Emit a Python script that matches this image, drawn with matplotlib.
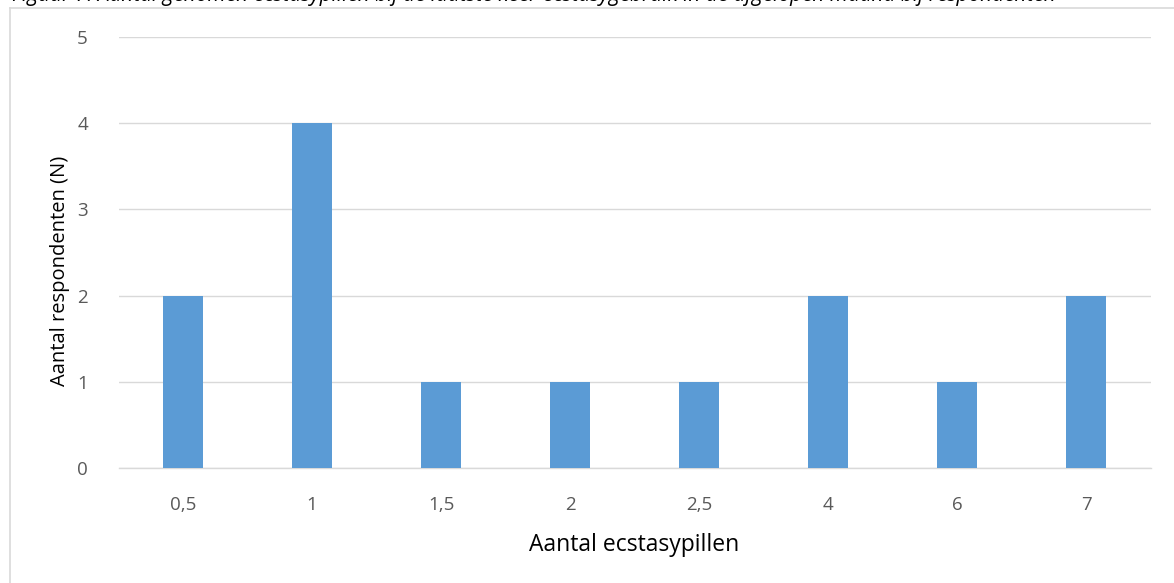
import matplotlib
matplotlib.use("Agg")
import matplotlib.pyplot as plt
from matplotlib.lines import Line2D

categories = ["0,5", "1", "1,5", "2", "2,5", "4", "6", "7"]
values = [2, 4, 1, 1, 1, 2, 1, 2]
yticks = [0, 1, 2, 3, 4, 5]
title = "Figuur 7: Aantal genomen ecstasypillen bij de laatste keer ecstasygebruik in de afgelopen maand bij respondenten"

plt.rcParams['font.family'] = ['Open Sans', 'DejaVu Sans']

fig = plt.figure(figsize=(11.74, 5.83), dpi=100)
W, H = 1174, 583
ax = fig.add_axes([118.5 / W, 1 - 468 / H, (1150.5 - 118.5) / W, (468 - 37) / H])

x = list(range(len(categories)))
ax.bar(x, values, width=0.31, color="#5B9BD5", zorder=3)
ax.set_xlim(-0.5, len(categories) - 0.5)
ax.set_ylim(0, 5)
ax.set_yticks(yticks)
ax.set_xticks(x)
ax.set_xticklabels(categories)
ax.grid(axis="y", color="#d9d9d9", linewidth=1, zorder=0)
for s in ["top", "right", "left"]:
    ax.spines[s].set_visible(False)
ax.spines["bottom"].set_color("#d9d9d9")
ax.spines["bottom"].set_linewidth(1)
ax.tick_params(axis="both", length=0, labelsize=13.5, colors="#595959")
ax.tick_params(axis="y", pad=22)
ax.tick_params(axis="x", pad=20)
ax.set_xlabel("Aantal ecstasypillen", fontsize=16.5, color="#000000", labelpad=14)
ax.set_ylabel("Aantal respondenten (N)", fontsize=14.5, color="#000000")
ax.yaxis.set_label_coords((70 - 118.5) / 1032, (468 - 271) / 431)

# border of chart area
fig.add_artist(Line2D([9.5 / W, 9.5 / W], [0, 1 - 7.5 / H], color="#d9d9d9", lw=1.2, transform=fig.transFigure))
fig.add_artist(Line2D([9.5 / W, 1], [1 - 7.5 / H, 1 - 7.5 / H], color="#d9d9d9", lw=1.2, transform=fig.transFigure))

# cut-off caption at the very top
fig.text(12 / W, 1 - 1.0 / H, title, fontsize=15, style="italic", color="#000000",
         ha="left", va="baseline")

fig.savefig("out.png", dpi=100)
